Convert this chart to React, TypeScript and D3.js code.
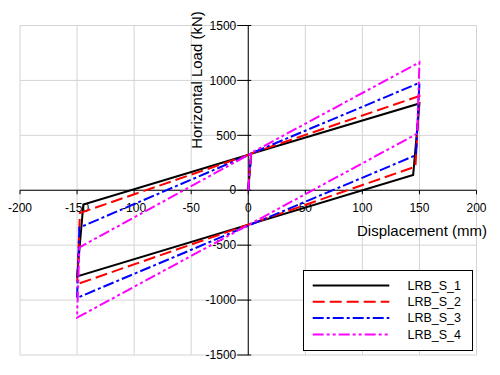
import React from "react";
import * as d3 from "d3";

const xTicks = [-200, -150, -100, -50, 0, 50, 100, 150, 200];
const yTicks = [-1500, -1000, -500, 0, 500, 1000, 1500];

const seriesNames = ["LRB_S_1", "LRB_S_2", "LRB_S_3", "LRB_S_4"];
const seriesColors = ["#000000", "#ff0000", "#0000ff", "#ff00ff"];
const seriesDash = ["", "12 5", "11 3 3 3", "11 3 3 3 3 3"];

// hysteresis loop points [displacement mm, load kN]
const loopS1: [number, number][] = [[0, 0], [2.5, 333], [150, 790], [144.5, 140], [-150, -785], [-144.5, -130], [2.5, 330]];
const loopS2: [number, number][] = [[0, 0], [2.5, 335], [150, 858], [146.5, 215], [-150, -855], [-147.5, -207], [2.5, 330]];
const loopS3: [number, number][] = [[0, 0], [2.5, 335], [150, 978], [147, 320], [-150, -980], [-148, -340], [2.5, 330]];
const loopS4: [number, number][] = [[0, 0], [2.5, 340], [150, 1165], [148, 515], [-150, -1160], [-148, -520], [2.5, 335]];
const loops = [loopS1, loopS2, loopS3, loopS4];

export default function App() {
  const W = 500, H = 375;
  const x = d3.scaleLinear().domain([-200, 200]).range([20, 476.5]);
  const y = d3.scaleLinear().domain([-1500, 1500]).range([355, 25.5]);
  const line = d3.line<[number, number]>().x(d => x(d[0])).y(d => y(d[1]));
  const x0 = x(0), y0 = y(0);
  const font = "Arial, 'Liberation Sans', sans-serif";
  return (
    <svg width={W} height={H} style={{ position: "absolute", left: 0, top: 0, background: "#fff" }} fontFamily={font}>
      <rect x={0} y={0} width={W} height={H} fill="#fff" />
      {xTicks.map(t => (
        <line key={"gx" + t} x1={x(t)} x2={x(t)} y1={y(1500)} y2={y(-1500)} stroke="#d4d4d4" strokeWidth={1} />
      ))}
      {yTicks.map(t => (
        <line key={"gy" + t} x1={x(-200)} x2={x(200)} y1={y(t)} y2={y(t)} stroke="#d4d4d4" strokeWidth={1} />
      ))}
      <line x1={x0} x2={x0} y1={y(1500)} y2={y(-1500)} stroke="#000" strokeWidth={1} />
      <line x1={x(-200)} x2={x(200)} y1={y0} y2={y0} stroke="#000" strokeWidth={1} />
      {yTicks.map(t => (
        <line key={"ty" + t} x1={x0 - 11} x2={x0 + 3} y1={y(t)} y2={y(t)} stroke="#000" strokeWidth={1} />
      ))}
      {xTicks.map(t => (
        <line key={"tx" + t} x1={x(t)} x2={x(t)} y1={y0} y2={y0 + 4} stroke="#000" strokeWidth={1} />
      ))}
      {yTicks.map(t => (
        <text key={"ly" + t} x={x0 - 12} y={y(t)} dy="0.35em" textAnchor="end" fontSize={12}>{t}</text>
      ))}
      {xTicks.map(t => (
        <text key={"lx" + t} x={x(t)} y={y0 + 18} dy="0.35em" textAnchor="middle" fontSize={12}>{t}</text>
      ))}
      <text x={487} y={236} textAnchor="end" fontSize={15}>Displacement (mm)</text>
      <text transform={`translate(202, 80) rotate(-90)`} textAnchor="middle" fontSize={15}>Horizontal Load (kN)</text>
      {loops.map((lp, i) => (
        <path key={"s" + i} d={line(lp) || ""} fill="none" stroke={seriesColors[i]} strokeWidth={2}
          strokeDasharray={seriesDash[i] || undefined} strokeLinejoin="miter" />
      ))}
      <rect x={303.5} y={270.5} width={169} height={80} fill="#fff" stroke="#000" strokeWidth={1} />
      {seriesNames.map((n, i) => {
        const yy = 285.5 + i * 16.3;
        return (
          <g key={"lg" + i}>
            <line x1={312.7} x2={389.3} y1={yy} y2={yy} stroke={seriesColors[i]} strokeWidth={2}
              strokeDasharray={seriesDash[i] || undefined} />
            <text x={407.5} y={yy} dy="0.35em" fontSize={12.5}>{n}</text>
          </g>
        );
      })}
    </svg>
  );
}
